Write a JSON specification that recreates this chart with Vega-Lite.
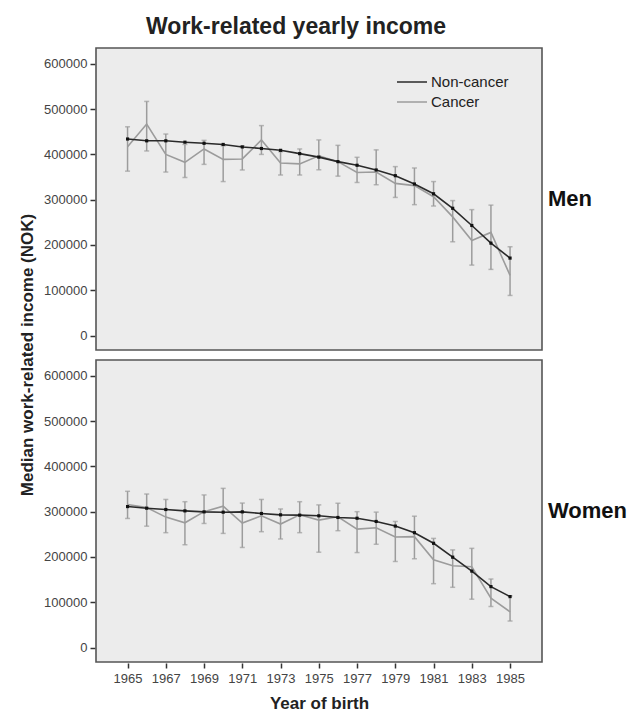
{
  "$schema": "https://vega.github.io/schema/vega-lite/v6.json",
  "padding": {"left": 18, "top": 16, "right": 5, "bottom": 5},
  "title": {"text": "Work-related yearly income", "fontSize": 23, "fontWeight": "bold", "color": "#222222", "offset": 8, "anchor": "middle", "frame": "bounds", "dx": -27},
  "datasets": {
    "rows": [
      {"sex": "Men", "group": "Non-cancer", "year": 1965, "value": 434000},
      {"sex": "Men", "group": "Non-cancer", "year": 1966, "value": 430000},
      {"sex": "Men", "group": "Non-cancer", "year": 1967, "value": 430000},
      {"sex": "Men", "group": "Non-cancer", "year": 1968, "value": 427000},
      {"sex": "Men", "group": "Non-cancer", "year": 1969, "value": 424500},
      {"sex": "Men", "group": "Non-cancer", "year": 1970, "value": 422000},
      {"sex": "Men", "group": "Non-cancer", "year": 1971, "value": 416500},
      {"sex": "Men", "group": "Non-cancer", "year": 1972, "value": 413000},
      {"sex": "Men", "group": "Non-cancer", "year": 1973, "value": 409000},
      {"sex": "Men", "group": "Non-cancer", "year": 1974, "value": 401700},
      {"sex": "Men", "group": "Non-cancer", "year": 1975, "value": 394000},
      {"sex": "Men", "group": "Non-cancer", "year": 1976, "value": 384000},
      {"sex": "Men", "group": "Non-cancer", "year": 1977, "value": 376000},
      {"sex": "Men", "group": "Non-cancer", "year": 1978, "value": 365600},
      {"sex": "Men", "group": "Non-cancer", "year": 1979, "value": 353000},
      {"sex": "Men", "group": "Non-cancer", "year": 1980, "value": 334600},
      {"sex": "Men", "group": "Non-cancer", "year": 1981, "value": 313000},
      {"sex": "Men", "group": "Non-cancer", "year": 1982, "value": 281000},
      {"sex": "Men", "group": "Non-cancer", "year": 1983, "value": 243000},
      {"sex": "Men", "group": "Non-cancer", "year": 1984, "value": 204000},
      {"sex": "Men", "group": "Non-cancer", "year": 1985, "value": 171000},
      {"sex": "Men", "group": "Cancer", "year": 1965, "value": 417000, "lo": 363000, "hi": 461000},
      {"sex": "Men", "group": "Cancer", "year": 1966, "value": 467000, "lo": 407600, "hi": 517000},
      {"sex": "Men", "group": "Cancer", "year": 1967, "value": 400000, "lo": 361000, "hi": 445000},
      {"sex": "Men", "group": "Cancer", "year": 1968, "value": 382500, "lo": 349000, "hi": 422000},
      {"sex": "Men", "group": "Cancer", "year": 1969, "value": 412000, "lo": 378000, "hi": 431000},
      {"sex": "Men", "group": "Cancer", "year": 1970, "value": 389000, "lo": 340000, "hi": 419000},
      {"sex": "Men", "group": "Cancer", "year": 1971, "value": 390000, "lo": 365600, "hi": 419000},
      {"sex": "Men", "group": "Cancer", "year": 1972, "value": 432000, "lo": 400000, "hi": 463600},
      {"sex": "Men", "group": "Cancer", "year": 1973, "value": 381000, "lo": 354500, "hi": 406000},
      {"sex": "Men", "group": "Cancer", "year": 1974, "value": 379000, "lo": 354500, "hi": 412000},
      {"sex": "Men", "group": "Cancer", "year": 1975, "value": 397000, "lo": 366000, "hi": 432000},
      {"sex": "Men", "group": "Cancer", "year": 1976, "value": 384000, "lo": 352000, "hi": 420000},
      {"sex": "Men", "group": "Cancer", "year": 1977, "value": 360000, "lo": 338000, "hi": 393600},
      {"sex": "Men", "group": "Cancer", "year": 1978, "value": 361000, "lo": 333000, "hi": 410000},
      {"sex": "Men", "group": "Cancer", "year": 1979, "value": 336000, "lo": 305000, "hi": 373000},
      {"sex": "Men", "group": "Cancer", "year": 1980, "value": 331000, "lo": 289000, "hi": 370000},
      {"sex": "Men", "group": "Cancer", "year": 1981, "value": 306600, "lo": 286000, "hi": 340000},
      {"sex": "Men", "group": "Cancer", "year": 1982, "value": 262000, "lo": 207000, "hi": 298000},
      {"sex": "Men", "group": "Cancer", "year": 1983, "value": 210000, "lo": 155500, "hi": 278000},
      {"sex": "Men", "group": "Cancer", "year": 1984, "value": 227700, "lo": 146000, "hi": 288000},
      {"sex": "Men", "group": "Cancer", "year": 1985, "value": 132700, "lo": 88500, "hi": 196000},
      {"sex": "Women", "group": "Non-cancer", "year": 1965, "value": 311300},
      {"sex": "Women", "group": "Non-cancer", "year": 1966, "value": 307700},
      {"sex": "Women", "group": "Non-cancer", "year": 1967, "value": 304800},
      {"sex": "Women", "group": "Non-cancer", "year": 1968, "value": 301800},
      {"sex": "Women", "group": "Non-cancer", "year": 1969, "value": 299600},
      {"sex": "Women", "group": "Non-cancer", "year": 1970, "value": 298900},
      {"sex": "Women", "group": "Non-cancer", "year": 1971, "value": 299600},
      {"sex": "Women", "group": "Non-cancer", "year": 1972, "value": 296000},
      {"sex": "Women", "group": "Non-cancer", "year": 1973, "value": 293000},
      {"sex": "Women", "group": "Non-cancer", "year": 1974, "value": 292300},
      {"sex": "Women", "group": "Non-cancer", "year": 1975, "value": 290900},
      {"sex": "Women", "group": "Non-cancer", "year": 1976, "value": 287200},
      {"sex": "Women", "group": "Non-cancer", "year": 1977, "value": 285500},
      {"sex": "Women", "group": "Non-cancer", "year": 1978, "value": 278400},
      {"sex": "Women", "group": "Non-cancer", "year": 1979, "value": 268200},
      {"sex": "Women", "group": "Non-cancer", "year": 1980, "value": 253600},
      {"sex": "Women", "group": "Non-cancer", "year": 1981, "value": 230200},
      {"sex": "Women", "group": "Non-cancer", "year": 1982, "value": 199500},
      {"sex": "Women", "group": "Non-cancer", "year": 1983, "value": 168800},
      {"sex": "Women", "group": "Non-cancer", "year": 1984, "value": 134500},
      {"sex": "Women", "group": "Non-cancer", "year": 1985, "value": 112500},
      {"sex": "Women", "group": "Cancer", "year": 1965, "value": 315700, "lo": 285000, "hi": 345000},
      {"sex": "Women", "group": "Cancer", "year": 1966, "value": 309000, "lo": 268000, "hi": 339000},
      {"sex": "Women", "group": "Cancer", "year": 1967, "value": 288000, "lo": 253600, "hi": 327000},
      {"sex": "Women", "group": "Cancer", "year": 1968, "value": 275500, "lo": 227000, "hi": 322000},
      {"sex": "Women", "group": "Cancer", "year": 1969, "value": 300000, "lo": 274000, "hi": 337000},
      {"sex": "Women", "group": "Cancer", "year": 1970, "value": 312000, "lo": 252000, "hi": 351500},
      {"sex": "Women", "group": "Cancer", "year": 1971, "value": 274800, "lo": 221000, "hi": 319000},
      {"sex": "Women", "group": "Cancer", "year": 1972, "value": 291000, "lo": 255800, "hi": 327000},
      {"sex": "Women", "group": "Cancer", "year": 1973, "value": 272600, "lo": 239700, "hi": 306000},
      {"sex": "Women", "group": "Cancer", "year": 1974, "value": 293000, "lo": 253600, "hi": 322000},
      {"sex": "Women", "group": "Cancer", "year": 1975, "value": 281400, "lo": 210500, "hi": 315000},
      {"sex": "Women", "group": "Cancer", "year": 1976, "value": 288700, "lo": 258000, "hi": 318600},
      {"sex": "Women", "group": "Cancer", "year": 1977, "value": 261600, "lo": 209700, "hi": 300000},
      {"sex": "Women", "group": "Cancer", "year": 1978, "value": 264600, "lo": 228000, "hi": 299000},
      {"sex": "Women", "group": "Cancer", "year": 1979, "value": 244000, "lo": 190000, "hi": 278400},
      {"sex": "Women", "group": "Cancer", "year": 1980, "value": 244800, "lo": 196000, "hi": 290000},
      {"sex": "Women", "group": "Cancer", "year": 1981, "value": 193700, "lo": 141000, "hi": 241000},
      {"sex": "Women", "group": "Cancer", "year": 1982, "value": 180500, "lo": 133000, "hi": 215600},
      {"sex": "Women", "group": "Cancer", "year": 1983, "value": 178300, "lo": 106700, "hi": 219000},
      {"sex": "Women", "group": "Cancer", "year": 1984, "value": 108900, "lo": 90600, "hi": 151300},
      {"sex": "Women", "group": "Cancer", "year": 1985, "value": 78900, "lo": 58500, "hi": 114000}
    ]
  },
  "data": {"name": "rows"},
  "facet": {
    "row": {
      "field": "sex", "type": "nominal", "sort": ["Men", "Women"],
      "header": {
        "labelOrient": "right", "labelAngle": 0, "labelAlign": "right", "labelBaseline": "middle",
        "labelFontSize": 22, "labelFontWeight": "bold", "labelColor": "#111111", "labelPadding": 5,
        "title": "Median work-related income (NOK)", "titleOrient": "left",
        "titleFontSize": 17, "titleFontWeight": "bold", "titleColor": "#222222", "titlePadding": -4
      }
    }
  },
  "spacing": 8,
  "spec": {
    "width": 446,
    "height": 302,
    "encoding": {
      "x": {
        "field": "year", "type": "quantitative",
        "scale": {"domain": [1963.35, 1986.67], "nice": false, "zero": false},
        "axis": {"values": [1965, 1967, 1969, 1971, 1973, 1975, 1977, 1979, 1981, 1983, 1985], "format": "d", "title": "Year of birth", "titleFontSize": 17, "titleFontWeight": "bold", "titleColor": "#222222", "titlePadding": 10, "labelPadding": 4}
      }
    },
    "layer": [
      {
        "transform": [{"filter": "datum.group === 'Cancer'"}],
        "mark": {"type": "rule", "color": "#9c9c9c", "strokeWidth": 1.5},
        "encoding": {
          "y": {"field": "lo", "type": "quantitative", "scale": {"domain": [-32000, 635000], "nice": false, "zero": false},
            "axis": {"values": [0, 100000, 200000, 300000, 400000, 500000, 600000], "format": "d", "title": null, "labelPadding": 3}},
          "y2": {"field": "hi"}
        }
      },
      {
        "transform": [{"filter": "datum.group === 'Cancer'"}],
        "mark": {"type": "tick", "orient": "horizontal", "color": "#9c9c9c", "size": 5, "thickness": 1.5},
        "encoding": {"y": {"field": "lo", "type": "quantitative"}}
      },
      {
        "transform": [{"filter": "datum.group === 'Cancer'"}],
        "mark": {"type": "tick", "orient": "horizontal", "color": "#9c9c9c", "size": 5, "thickness": 1.5},
        "encoding": {"y": {"field": "hi", "type": "quantitative"}}
      },
      {
        "transform": [{"filter": "datum.group === 'Cancer'"}],
        "mark": {"type": "line", "strokeWidth": 1.6},
        "encoding": {
          "y": {"field": "value", "type": "quantitative"},
          "color": {"field": "group", "type": "nominal", "scale": {"domain": ["Non-cancer", "Cancer"], "range": ["#2a2a2a", "#9c9c9c"]},
            "legend": {"title": null, "orient": "none", "legendX": 305, "legendY": 23, "symbolType": "M-1.5,0L1.5,0", "symbolSize": 400, "symbolStrokeWidth": 1.5, "labelFontSize": 15, "labelColor": "#222222", "labelOffset": 8, "rowPadding": 1}}
        }
      },
      {
        "transform": [{"filter": "datum.group === 'Non-cancer'"}],
        "mark": {"type": "line", "strokeWidth": 1.6},
        "encoding": {
          "y": {"field": "value", "type": "quantitative"},
          "color": {"field": "group", "type": "nominal"}
        }
      },
      {
        "transform": [{"filter": "datum.group === 'Non-cancer'"}],
        "mark": {"type": "point", "shape": "square", "filled": true, "size": 10, "opacity": 1, "color": "#111111"},
        "encoding": {"y": {"field": "value", "type": "quantitative"}}
      }
    ]
  },
  "config": {
    "font": "Liberation Sans",
    "view": {"fill": "#ececec", "stroke": "#555555", "strokeWidth": 1.6},
    "axis": {"domain": false, "grid": false, "tickColor": "#333333", "tickWidth": 1.5, "tickSize": 5, "labelColor": "#444444", "labelFontSize": 13}
  }
}
